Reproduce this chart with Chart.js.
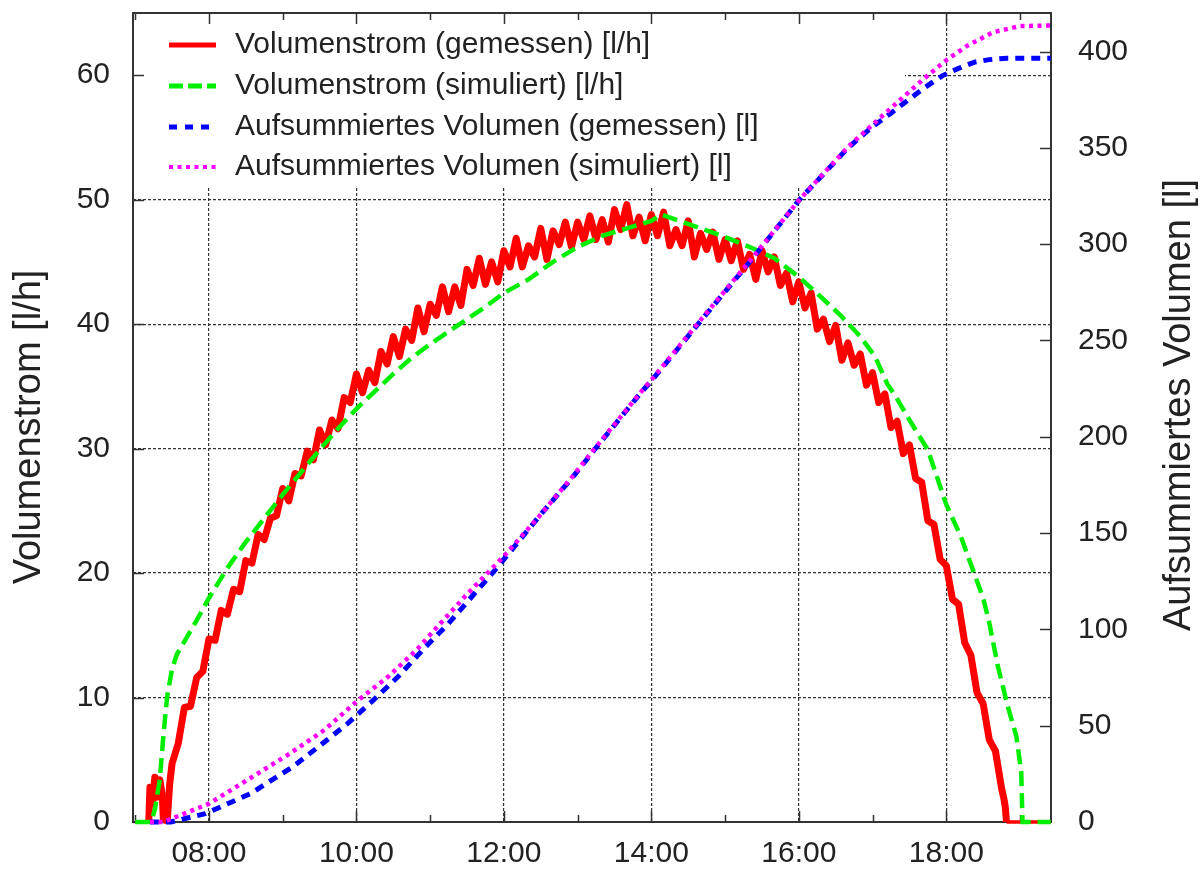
<!DOCTYPE html>
<html>
<head>
<meta charset="utf-8">
<title>Volumenstrom</title>
<script src="https://cdn.jsdelivr.net/npm/chart.js@4.4.1/dist/chart.umd.min.js"></script>
<style>
  html, body { margin: 0; padding: 0; background: #fff; }
  #wrap { width: 1200px; height: 870px; position: relative; }
</style>
</head>
<body>
<div id="wrap"><canvas id="myChart"></canvas></div>
<script>

// DONNEES //

// Volumenstrom gemessen [l/h]
const measTimes = [
  "07:00","07:11","07:12","07:14","07:16","07:18","07:20","07:22","07:23","07:26","07:28",
  "07:30","07:35","07:40","07:45","07:50","07:55",
  "08:00","08:05","08:10","08:15","08:20","08:25","08:30","08:35","08:40","08:45","08:50","08:55",
  "09:00","09:05","09:10","09:15","09:20","09:25","09:30","09:35","09:40","09:45","09:50","09:55",
  "10:00","10:05","10:10","10:15","10:20","10:25","10:30","10:35","10:40","10:45","10:50","10:55",
  "11:00","11:05","11:10","11:15","11:20","11:25","11:30","11:35","11:40","11:45","11:50","11:55",
  "12:00","12:05","12:10","12:15","12:20","12:25","12:30","12:35","12:40","12:45","12:50","12:55",
  "13:00","13:05","13:10","13:15","13:20","13:25","13:30","13:35","13:40","13:45","13:50","13:55",
  "14:00","14:05","14:10","14:15","14:20","14:25","14:30","14:35","14:40","14:45","14:50","14:55",
  "15:00","15:05","15:10","15:15","15:20","15:25","15:30","15:35","15:40","15:45","15:50","15:55",
  "16:00","16:05","16:10","16:15","16:20","16:25","16:30","16:35","16:40","16:45","16:50","16:55",
  "17:00","17:05","17:10","17:15","17:20","17:25","17:30","17:35","17:40","17:45","17:50","17:55",
  "18:00","18:05","18:10","18:15","18:20","18:25","18:30","18:35","18:40","18:45",
  "18:47","18:48","18:49","19:25"
];
const measFlow = [
  0, 0, 2.8, 1.5, 3.6, 2.0, 3.4, 2.2, 0, 0, 3.0,
  4.7, 6.3, 9.2, 9.3, 11.6, 12.1,
  14.7, 14.6, 17.0, 16.7, 18.7, 18.5, 21.0, 20.8, 23.1, 22.7, 24.4, 24.6,
  26.8, 25.8, 28.0, 27.8, 29.8, 29.1, 31.5, 30.3, 32.3, 31.6, 34.1, 33.7,
  36.0, 34.5, 36.3, 35.3, 37.8, 36.8, 39.0, 37.4, 39.6, 38.7, 41.3, 39.4,
  41.6, 40.7, 43.0, 41.0, 43.0, 41.5, 44.4, 43.1, 45.3, 43.2, 45.0, 43.4,
  45.9, 44.6, 46.9, 44.6, 46.3, 45.4, 47.7, 45.2, 47.5, 46.4, 48.2, 46.2,
  48.2, 46.8, 48.7, 46.8, 48.4, 46.6, 49.2, 47.6, 49.6, 47.1, 48.6, 46.7,
  48.8, 47.1, 49.0, 46.3, 47.6, 46.3, 48.3, 45.4, 47.3, 46.0, 47.4, 45.2,
  46.8, 45.1, 46.7, 44.4, 45.6, 43.6, 45.9, 44.2, 45.4, 43.1, 44.1, 41.8,
  43.4, 41.3, 42.5, 39.6, 40.4, 38.6, 39.9, 37.1, 38.5, 36.7, 37.6, 35.1,
  36.1, 33.7, 34.4, 31.7, 32.2, 29.6, 30.3, 27.6, 27.3, 24.2, 23.9, 21.1,
  20.6, 17.9, 17.5, 14.4, 13.4, 10.4, 9.5, 6.6, 5.7, 2.7,
  1.8, 1.2, 0, 0
];

// Volumenstrom simuliert [l/h]
const simTimes = [
  "07:00","07:13","07:16","07:20","07:23","07:26","07:30","07:34","07:40","07:50",
  "08:00","08:15","08:30","08:45","09:00","09:15","09:30","09:45",
  "10:00","10:15","10:30","10:45","11:00","11:15","11:30","11:45",
  "12:00","12:20","12:40","13:00","13:20","13:40","14:00","14:08","14:20","14:40",
  "15:00","15:20","15:40","16:00","16:20","16:35","16:50","17:02","17:12","17:20","17:30","17:45",
  "18:00","18:12","18:20","18:30","18:35","18:42","18:50","18:57","19:01","19:02","19:25"
];
const simFlow = [
  0, 0, 1.0, 3.4, 7.0, 10.1, 12.3, 13.5, 14.5, 16.2,
  18.0, 20.4, 22.5, 24.4, 26.3, 28.1, 29.9, 31.6,
  33.2, 34.6, 36.0, 37.3, 38.4, 39.4, 40.4, 41.4,
  42.5, 43.6, 45.0, 46.2, 47.1, 47.7, 48.3, 48.8, 48.4, 47.7,
  47.0, 46.2, 45.3, 43.8, 42.0, 40.6, 39.0, 37.4, 35.2, 34.0, 32.3, 29.9,
  25.5, 22.9, 20.7, 18.0, 16.0, 12.5, 9.3, 6.9, 4.0, 0, 0
];

// Aufsummiertes Volumen gemessen [l]
const volMeasTimes = [
  "07:12","07:29","07:57","08:34","09:08","09:31","09:53","10:14","10:34","10:54",
  "11:14","11:33","11:52","12:10","12:29","12:57","13:14","13:51","14:00","14:38",
  "15:21","16:00","16:40","17:00","17:15","17:23","17:43","17:57","18:09","18:23",
  "18:35","18:49","19:25"
];
const volMeas = [
  0, 0, 4.3, 14.8, 28.6, 40, 51.2, 63.4, 75.5, 89.4,
  102.4, 116.3, 130.2, 144.1, 158.9, 179.8, 193.5, 222.5, 229, 258.5,
  291.5, 322.7, 350, 361, 368, 372, 381.5, 387.5, 391, 394.5,
  395.8, 396.5, 396.5
];

// Aufsummiertes Volumen simuliert [l]
const volSimTimes = [
  "07:12","07:23","08:00","08:31","09:06","09:34","10:00","10:26","10:49","11:11",
  "11:31","12:00","12:29","12:57","13:14","13:51","14:00","14:38","15:21","16:00",
  "16:40","17:00","17:20","17:42","18:00","18:17","18:38","19:00","19:25"
];
const volSim = [
  0, 0, 9.5, 21.7, 35.6, 47.8, 62.5, 75.5, 89.4, 105,
  118.9, 138, 158.9, 180.3, 194, 222.8, 229.5, 259, 292, 322.7,
  350.5, 362, 373.5, 386, 395.5, 403, 410, 413.2, 413.5
];

// Achsen
const xTickHours = [8, 10, 12, 14, 16, 18];
const xTickLabels = ["08:00", "10:00", "12:00", "14:00", "16:00", "18:00"];
const xMarkHours = [7, 8, 9, 10, 11, 12, 13, 14, 15, 16, 17, 18, 19];
const flowTicks = [0, 10, 20, 30, 40, 50, 60];
const volTicks = [0, 50, 100, 150, 200, 250, 300, 350, 400];
const yTitle = "Volumenstrom [l/h]";
const y2Title = "Aufsummiertes Volumen [l]";


// GRAPHIQUE //

const FONT = '"Liberation Sans", Arial, sans-serif';
const INK = '#222';

const toHours = (t) => {
  const parts = t.split(':').map(Number);
  return parts[0] + parts[1] / 60;
};
const pairs = (times, values) => times.map((t, i) => ({ x: toHours(t), y: values[i] }));

// gnuplot look: rahmen, ticks nach innen, legende im plot
const gnuplotLook = {
  id: 'gnuplotLook',
  beforeDatasetsDraw(chart) {
    const c = chart.ctx;
    const a = chart.chartArea;
    const sx = chart.scales.x, sy = chart.scales.y, sy2 = chart.scales.y2;

    c.save();
    // legend box hides the grid
    c.fillStyle = '#fff';
    c.fillRect(a.left, a.top, 905 - a.left, 188 - a.top);

    // frame
    c.strokeStyle = '#333';
    c.lineWidth = 2;
    c.setLineDash([]);
    c.strokeRect(a.left, a.top, a.right - a.left, a.bottom - a.top);

    // tick marks
    c.lineWidth = 1.5;
    c.beginPath();
    xMarkHours.forEach(h => {
      const x = Math.round(sx.getPixelForValue(h)) + 0.5;
      const len = h % 2 === 0 ? 11 : 7;
      c.moveTo(x, a.bottom); c.lineTo(x, a.bottom - len);
      c.moveTo(x, a.top); c.lineTo(x, a.top + len);
    });
    flowTicks.forEach(v => {
      const y = Math.round(sy.getPixelForValue(v)) + 0.5;
      c.moveTo(a.left, y); c.lineTo(a.left + 11, y);
    });
    volTicks.forEach(v => {
      const y = Math.round(sy2.getPixelForValue(v)) + 0.5;
      c.moveTo(a.right, y); c.lineTo(a.right - 11, y);
    });
    c.stroke();

    // legend
    c.font = '30px ' + FONT;
    c.textAlign = 'left';
    c.textBaseline = 'middle';
    const rows = [45, 86, 127, 167];
    chart.data.datasets.forEach((ds, i) => {
      const y = rows[i];
      c.strokeStyle = ds.borderColor;
      c.lineWidth = ds.legendWidth;
      c.setLineDash(ds.legendDash);
      c.beginPath();
      c.moveTo(169, y); c.lineTo(216, y);
      c.stroke();
      c.fillStyle = INK;
      c.fillText(ds.label, 235, y);
    });

    // axis titles, both read bottom to top
    c.setLineDash([]);
    c.font = '38px ' + FONT;
    c.textAlign = 'center';
    c.fillStyle = INK;
    c.save();
    c.translate(30, 427);
    c.rotate(-Math.PI / 2);
    c.fillText(yTitle, 0, 0);
    c.restore();
    c.save();
    c.translate(1180, 405);
    c.rotate(-Math.PI / 2);
    c.fillText(y2Title, 0, 0);
    c.restore();

    c.restore();
  }
};

const ctx = document.getElementById('myChart');

new Chart(ctx, {
  type: 'line',
  data: {
    datasets: [
      {
        label: 'Volumenstrom (gemessen) [l/h]',
        data: pairs(measTimes, measFlow),
        yAxisID: 'y',
        borderColor: '#ff0000',
        borderWidth: 7,
        borderJoinStyle: 'round',
        // thin where the pump is off, noisy band elsewhere
        segment: {
          borderWidth: s => (s.p0.parsed.y === 0 && s.p1.parsed.y === 0) ? 3.5 : 7
        },
        legendWidth: 5,
        legendDash: [],
        order: 4
      },
      {
        label: 'Volumenstrom (simuliert) [l/h]',
        data: pairs(simTimes, simFlow),
        yAxisID: 'y',
        borderColor: '#00ee00',
        borderWidth: 4.5,
        borderDash: [15, 7],
        legendWidth: 5,
        legendDash: [14, 5],
        order: 3
      },
      {
        label: 'Aufsummiertes Volumen (gemessen) [l]',
        data: pairs(volMeasTimes, volMeas),
        yAxisID: 'y2',
        borderColor: '#0000ff',
        borderWidth: 5,
        borderDash: [9, 7],
        legendWidth: 5,
        legendDash: [8, 8],
        order: 2
      },
      {
        label: 'Aufsummiertes Volumen (simuliert) [l]',
        data: pairs(volSimTimes, volSim),
        yAxisID: 'y2',
        borderColor: '#ff00ff',
        borderWidth: 4.5,
        borderDash: [4, 4.5],
        legendWidth: 4,
        legendDash: [4, 4.5],
        order: 1
      }
    ]
  },
  options: {
    responsive: true,
    maintainAspectRatio: false,
    animation: false,
    devicePixelRatio: 1,
    layout: { padding: { top: 13, left: 0, right: 0, bottom: 0 } },
    elements: {
      point: { radius: 0, hoverRadius: 0 },
      line: { tension: 0, fill: false }
    },
    datasets: { line: { clip: 8 } },
    plugins: {
      legend: false,
      tooltip: { enabled: false }
    },
    scales: {
      x: {
        type: 'linear',
        min: 6.97,
        max: 19.42,
        afterBuildTicks: s => { s.ticks = xTickHours.map(v => ({ value: v })); },
        afterFit: s => { s.height = 48; s.paddingLeft = 0; s.paddingRight = 0; },
        grid: { color: '#333', lineWidth: 1.2, drawTicks: false },
        border: { display: false, dash: [3, 2] },
        ticks: {
          autoSkip: false,
          maxRotation: 0,
          padding: 14,
          color: INK,
          font: { family: FONT, size: 30 },
          callback: v => xTickLabels[xTickHours.indexOf(v)]
        }
      },
      y: {
        position: 'left',
        min: 0,
        max: 65,
        afterBuildTicks: s => { s.ticks = flowTicks.map(v => ({ value: v })); },
        afterFit: s => { s.width = 133; s.paddingTop = 0; s.paddingBottom = 0; },
        grid: { color: '#333', lineWidth: 1.2, drawTicks: false },
        border: { display: false, dash: [3, 2] },
        ticks: { padding: 23, color: INK, font: { family: FONT, size: 30 } }
      },
      y2: {
        position: 'right',
        min: 0,
        max: 420,
        afterBuildTicks: s => { s.ticks = volTicks.map(v => ({ value: v })); },
        afterFit: s => { s.width = 149; s.paddingTop = 0; s.paddingBottom = 0; },
        grid: { display: false, drawTicks: false },
        border: { display: false },
        ticks: { padding: 27, color: INK, font: { family: FONT, size: 30 } }
      }
    }
  },
  plugins: [gnuplotLook]
});

</script>
</body>
</html>
